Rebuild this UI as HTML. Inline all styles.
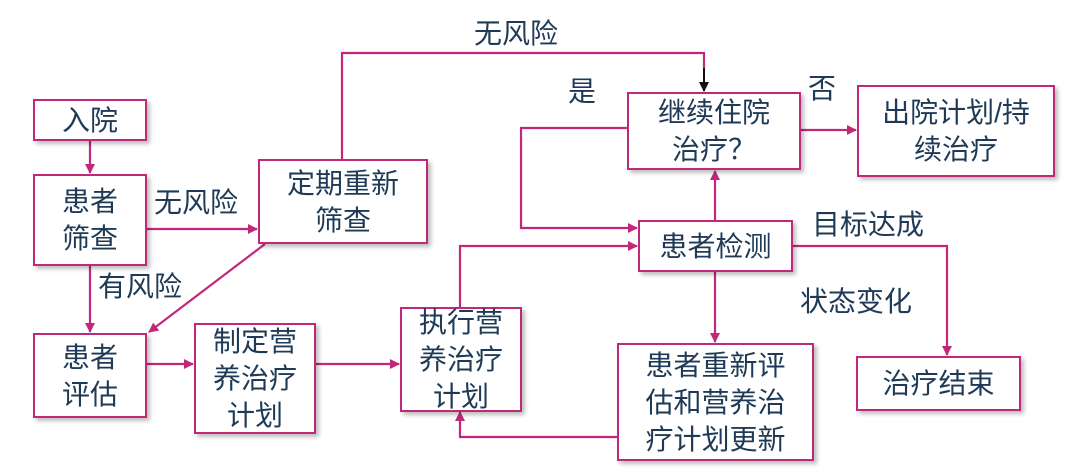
<!DOCTYPE html>
<html><head><meta charset="utf-8"><style>
body{margin:0;background:#fff;width:1080px;height:473px;overflow:hidden;position:relative;font-family:"Liberation Sans","Noto Sans CJK SC",sans-serif;color:#1e3a56}
.b{position:absolute;box-sizing:border-box;border:2.5px solid #c2287a;background:#fff;box-shadow:3px 3px 4px rgba(0,0,0,.25);display:flex;align-items:center;justify-content:center;text-align:center;font-size:28px;line-height:37px}
.t{position:absolute;font-size:28px;line-height:30px;white-space:nowrap}
svg{position:absolute;left:0;top:0}
</style></head><body>
<svg width="1080" height="473">
<defs><marker id="a" markerWidth="10" markerHeight="10" refX="9" refY="5" orient="auto" markerUnits="userSpaceOnUse"><path d="M0,0 L10,5 L0,10 z" fill="#c2287a"/></marker>
<marker id="k" markerWidth="10" markerHeight="10" refX="9" refY="5" orient="auto" markerUnits="userSpaceOnUse"><path d="M0,0 L10,5 L0,10 z" fill="#111"/></marker></defs>
<g stroke="#c2287a" stroke-width="2.2" fill="none">
<line x1="90" y1="140" x2="90" y2="173" marker-end="url(#a)"/>
<line x1="146" y1="229" x2="257" y2="229" marker-end="url(#a)"/>
<line x1="90" y1="265" x2="90" y2="332" marker-end="url(#a)"/>
<line x1="265" y1="244" x2="149" y2="332" marker-end="url(#a)"/>
<polyline points="342,159 342,53 704,53 704,70"/>
<line x1="146" y1="364" x2="193" y2="364" marker-end="url(#a)"/>
<line x1="315" y1="364" x2="399" y2="364" marker-end="url(#a)"/>
<polyline points="460,307 460,246 637,246" marker-end="url(#a)"/>
<polyline points="627,128 521,128 521,228 637,228" marker-end="url(#a)"/>
<line x1="800" y1="130" x2="856" y2="130" marker-end="url(#a)"/>
<line x1="715" y1="220" x2="715" y2="171" marker-end="url(#a)"/>
<polyline points="792,246 947,246 947,355" marker-end="url(#a)"/>
<line x1="715" y1="271" x2="715" y2="342" marker-end="url(#a)"/>
<polyline points="617,437 460,437 460,412" marker-end="url(#a)"/>
</g>
<line x1="704" y1="68" x2="704" y2="91" stroke="#111" stroke-width="2" marker-end="url(#k)"/>
</svg>
<div class="b" style="left:33px;top:99px;width:114px;height:42px">入院</div>
<div class="b" style="left:33px;top:174px;width:114px;height:92px">患者<br>筛查</div>
<div class="b" style="left:33px;top:333px;width:114px;height:85px">患者<br>评估</div>
<div class="b" style="left:258px;top:159px;width:170px;height:85px">定期重新<br>筛查</div>
<div class="b" style="left:194px;top:323px;width:122px;height:111px">制定营<br>养治疗<br>计划</div>
<div class="b" style="left:400px;top:307px;width:122px;height:105px">执行营<br>养治疗<br>计划</div>
<div class="b" style="left:627px;top:92px;width:174px;height:78px">继续住院<br>治疗？</div>
<div class="b" style="left:857px;top:85px;width:198px;height:92px">出院计划/持<br>续治疗</div>
<div class="b" style="left:638px;top:220px;width:155px;height:52px">患者检测</div>
<div class="b" style="left:617px;top:343px;width:197px;height:118px">患者重新评<br>估和营养治<br>疗计划更新</div>
<div class="b" style="left:856px;top:356px;width:165px;height:55px">治疗结束</div>
<div class="t" style="left:154px;top:188px">无风险</div>
<div class="t" style="left:98px;top:272px">有风险</div>
<div class="t" style="left:474px;top:19px">无风险</div>
<div class="t" style="left:568px;top:77px">是</div>
<div class="t" style="left:808px;top:74px">否</div>
<div class="t" style="left:812px;top:210px">目标达成</div>
<div class="t" style="left:800px;top:287px">状态变化</div>
</body></html>
